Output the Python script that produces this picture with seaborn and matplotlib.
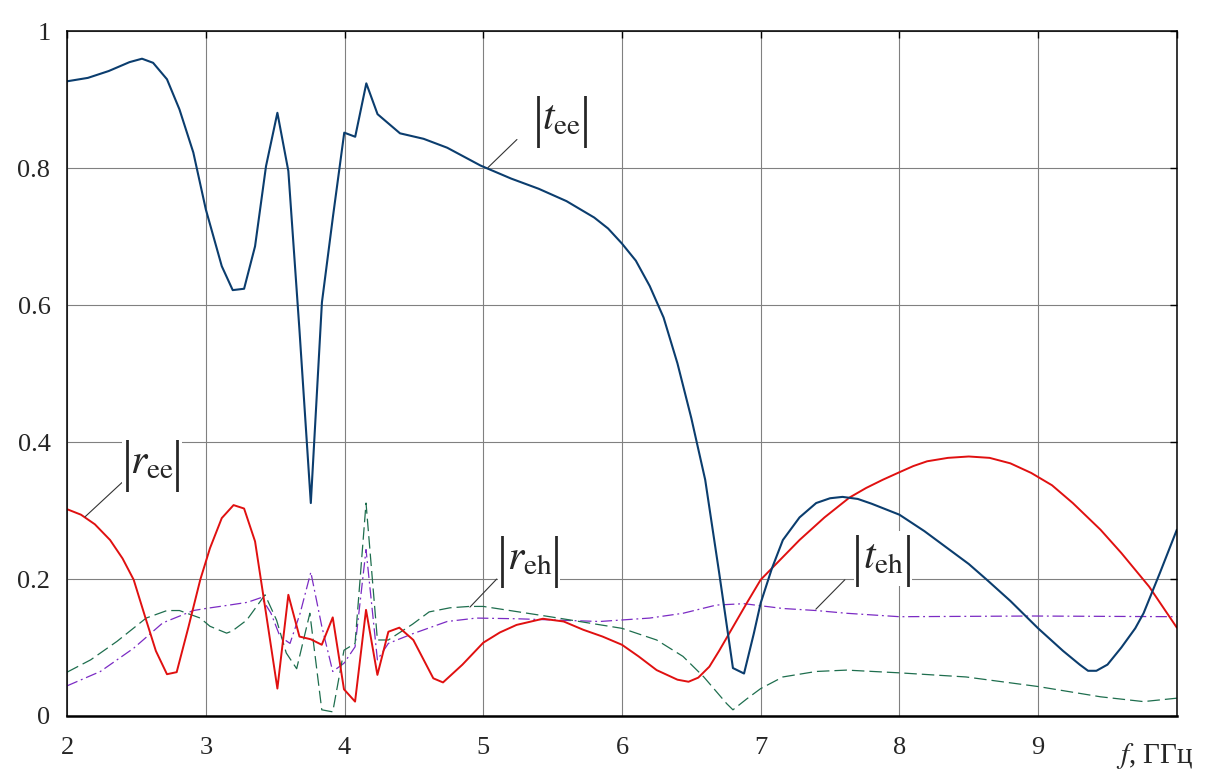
import matplotlib
matplotlib.use("Agg")
import matplotlib.pyplot as plt
import seaborn as sns

# |t_ee| - transmission, co-polar
f_tee = [2.0, 2.15, 2.3, 2.45, 2.54, 2.62, 2.72, 2.81, 2.91, 3.0, 3.115, 3.194, 3.276,
         3.355, 3.434, 3.516, 3.595, 3.675, 3.757, 3.837, 3.917, 3.998, 4.077, 4.157,
         4.238, 4.40, 4.57, 4.74, 4.98, 5.2, 5.4, 5.6, 5.8, 5.9, 6.0, 6.1, 6.2, 6.3,
         6.4, 6.5, 6.6, 6.7, 6.8, 6.88, 6.95, 7.0, 7.08, 7.16, 7.28, 7.4, 7.5, 7.59,
         7.7, 7.8, 8.0, 8.18, 8.36, 8.5, 8.63, 8.8, 9.0, 9.18, 9.3, 9.36, 9.42, 9.5,
         9.6, 9.7, 9.76, 9.88, 10.0]
t_ee = [0.927, 0.932, 0.942, 0.955, 0.960, 0.954, 0.930, 0.886, 0.823, 0.74, 0.657, 0.622, 0.624,
        0.686, 0.803, 0.881, 0.796, 0.564, 0.311, 0.604, 0.73, 0.852, 0.846, 0.924,
        0.879, 0.851, 0.843, 0.83, 0.804, 0.785, 0.770, 0.752, 0.728, 0.712, 0.69, 0.665, 0.628, 0.582,
        0.515, 0.435, 0.345, 0.21, 0.07, 0.062, 0.12, 0.165, 0.215, 0.257, 0.29, 0.311, 0.318, 0.32,
        0.317, 0.31, 0.294, 0.27, 0.243, 0.222, 0.199, 0.168, 0.128, 0.095, 0.075, 0.066, 0.066, 0.075,
        0.10, 0.128, 0.15, 0.21, 0.272]

# |r_ee| - reflection, co-polar
f_ree = [2.0, 2.1, 2.2, 2.31, 2.4, 2.48, 2.57, 2.64, 2.72, 2.79, 2.875, 2.96, 3.03, 3.115,
         3.2, 3.276, 3.355, 3.434, 3.516, 3.595, 3.675, 3.757, 3.836, 3.915, 3.996, 4.076,
         4.155, 4.237, 4.316, 4.395, 4.496, 4.64, 4.71, 4.85, 5.0, 5.12, 5.24, 5.43, 5.58,
         5.72, 5.86, 6.0, 6.12, 6.25, 6.4, 6.48, 6.55, 6.63, 6.7, 6.8, 6.9, 7.0, 7.14,
         7.28, 7.46, 7.64, 7.76, 7.88, 8.0, 8.1, 8.2, 8.35, 8.5, 8.65, 8.8, 8.95, 9.1,
         9.25, 9.45, 9.6, 9.8, 10.0]
r_ee = [0.302, 0.294, 0.28, 0.257, 0.23, 0.199, 0.14, 0.095, 0.061, 0.064, 0.13, 0.199, 0.245, 0.289,
        0.308, 0.303, 0.255, 0.150, 0.040, 0.177, 0.116, 0.112, 0.104, 0.144, 0.039, 0.021,
        0.155, 0.060, 0.123, 0.129, 0.111, 0.055, 0.049, 0.075, 0.107, 0.122, 0.133, 0.142, 0.138,
        0.126, 0.116, 0.104, 0.087, 0.067, 0.053, 0.050, 0.056, 0.072, 0.095, 0.130, 0.165, 0.199, 0.228,
        0.257, 0.29, 0.319, 0.333, 0.345, 0.356, 0.365, 0.372, 0.377, 0.379, 0.377, 0.369, 0.355, 0.337,
        0.311, 0.272, 0.238, 0.189, 0.129]

# |r_eh| - reflection, cross-polar
f_reh = [2.0, 2.17, 2.36, 2.57, 2.72, 2.81, 2.96, 3.03, 3.15, 3.19, 3.295, 3.427, 3.51, 3.58,
         3.655, 3.75, 3.836, 3.915, 3.996, 4.076, 4.155, 4.237, 4.316, 4.49, 4.61, 4.76,
         4.9, 5.0, 5.48, 6.0, 6.25, 6.44, 6.59, 6.755, 6.80, 6.9, 7.0, 7.16, 7.4, 7.62,
         8.0, 8.48, 9.0, 9.45, 9.76, 10.0]
r_eh = [0.064, 0.082, 0.109, 0.143, 0.154, 0.154, 0.143, 0.131, 0.121, 0.124, 0.140, 0.177, 0.140, 0.092,
        0.069, 0.150, 0.009, 0.006, 0.096, 0.106, 0.311, 0.111, 0.111, 0.134, 0.152, 0.158,
        0.16, 0.160, 0.145, 0.128, 0.111, 0.087, 0.057, 0.018, 0.009, 0.025, 0.040, 0.057, 0.065, 0.067,
        0.063, 0.057, 0.043, 0.028, 0.021, 0.026]

# |t_eh| - transmission, cross-polar
f_teh = [2.0, 2.24, 2.48, 2.69, 2.91, 3.0, 3.17, 3.30, 3.40, 3.47, 3.535, 3.607, 3.68, 3.757,
         3.836, 3.915, 3.996, 4.076, 4.155, 4.237, 4.316, 4.49, 4.74, 4.95, 5.24, 5.84,
         6.2, 6.44, 6.68, 6.88, 7.16, 7.40, 7.62, 8.0, 8.96, 10.0]
t_eh = [0.044, 0.065, 0.099, 0.136, 0.154, 0.157, 0.162, 0.166, 0.173, 0.150, 0.116, 0.106, 0.15, 0.210,
        0.131, 0.065, 0.077, 0.101, 0.243, 0.082, 0.106, 0.12, 0.138, 0.143, 0.142, 0.138,
        0.143, 0.150, 0.162, 0.164, 0.157, 0.154, 0.150, 0.145, 0.146, 0.145]

xticks = [2, 3, 4, 5, 6, 7, 8, 9, 10]
xticklabels = ["2", "3", "4", "5", "6", "7", "8", "9", ""]
yticks = [0, 0.2, 0.4, 0.6, 0.8, 1.0]
yticklabels = ["0", "0.2", "0.4", "0.6", "0.8", "1"]

sns.set_style("white")
plt.rcParams['font.family'] = 'serif'
plt.rcParams['font.serif'] = ['Liberation Serif', 'DejaVu Serif']
plt.rcParams['mathtext.fontset'] = 'stix'

fig, ax = plt.subplots(figsize=(12.31, 7.83), dpi=100)
fig.subplots_adjust(left=0.0545, right=0.956, top=0.960, bottom=0.0856)

sns.lineplot(x=f_teh, y=t_eh, ax=ax, color='#7b2bc4', linewidth=0.9,
             linestyle=(0, (9, 3, 1.5, 3)), estimator=None)
sns.lineplot(x=f_reh, y=r_eh, ax=ax, color='#1e6e4e', linewidth=0.9,
             linestyle=(0, (10, 4)), estimator=None)
sns.lineplot(x=f_ree, y=r_ee, ax=ax, color='#e01010', linewidth=1.4, estimator=None)
sns.lineplot(x=f_tee, y=t_ee, ax=ax, color='#0b3d6e', linewidth=1.5, estimator=None)

ax.set_xlim(2, 10)
ax.set_ylim(0, 1)
ax.set_xticks(xticks)
ax.set_xticklabels(xticklabels)
ax.set_yticks(yticks)
ax.set_yticklabels(yticklabels)
ax.grid(True, color='#808080', linewidth=0.8)
ax.set_axisbelow(True)
ax.tick_params(axis='both', direction='in', length=5, width=1, color='black',
               labelsize=19, top=True, right=True)
ax.tick_params(axis='x', pad=15)
ax.tick_params(axis='y', pad=12)
for s in ax.spines.values():
    s.set_color('black')
    s.set_linewidth(1.1)
ax.spines['bottom'].set_linewidth(1.8)

ax.text(9.84, -0.036, r'$f$, ГГц', transform=ax.get_xaxis_transform(),
        ha='center', va='top', fontsize=21)

# curve labels |x_ab| with leader lines; last item = half gap between bars (pt)
labels = [
    (r'$t_{\mathrm{ee}}$', (5.567, 0.868), (5.034, 0.801), (5.243, 0.842), 17),
    (r'$r_{\mathrm{ee}}$', (2.613, 0.365), (2.13, 0.291), (2.396, 0.341), 18),
    (r'$r_{\mathrm{eh}}$', (5.333, 0.225), (4.904, 0.159), (5.097, 0.200), 19.5),
    (r'$t_{\mathrm{eh}}$', (7.881, 0.226), (7.398, 0.156), (7.607, 0.199), 18.5),
]
for txt, pos, p0, p1, half in labels:
    ax.annotate('', xy=p0, xytext=p1,
                arrowprops=dict(arrowstyle='-', color='#333333', linewidth=0.8,
                                shrinkA=0, shrinkB=0))
    t = ax.annotate(txt, xy=pos, xytext=(0, 2), textcoords='offset points',
                    ha='center', va='center', fontsize=30, zorder=4)
    t.set_bbox(dict(facecolor='white', edgecolor='none', pad=6))
    for dx in (-half, half):
        ax.annotate('|', xy=pos, xytext=(dx, 0), textcoords='offset points',
                    ha='center', va='center', fontsize=40, zorder=5)

fig.savefig('out.png', dpi=100)
